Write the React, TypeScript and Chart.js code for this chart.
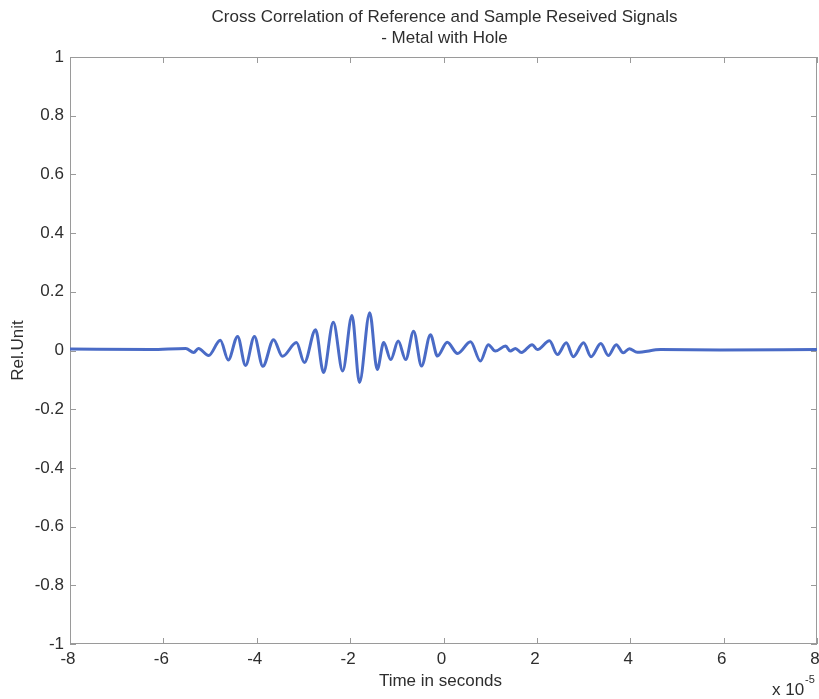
import React, { useEffect, useRef } from "react";
import { Chart, registerables } from "chart.js";

Chart.register(...registerables);

// Time in units of 1e-5 s
const timeE5 = [
  -8.0, -6.27, -5.52, -5.35, -5.25, -5.03, -4.78, -4.61, -4.41, -4.24, -4.05, -3.87,
  -3.64, -3.45, -3.15, -2.98, -2.74, -2.57, -2.36, -2.16, -1.96, -1.8, -1.58, -1.42,
  -1.28, -1.13, -0.97, -0.81, -0.64, -0.47, -0.28, -0.13, 0.08, 0.3, 0.58, 0.79,
  0.96, 1.11, 1.33, 1.43, 1.54, 1.67, 1.9, 2.01, 2.27, 2.44, 2.63, 2.78,
  3.0, 3.16, 3.37, 3.53, 3.7, 3.85, 3.98, 4.15, 4.65, 5.93, 8.0,
];
const relUnit = [
  0.005, 0.003, 0.007, -0.007, 0.007, -0.017, 0.035, -0.032, 0.048, -0.051, 0.048, -0.054,
  0.037, -0.02, 0.027, -0.041, 0.071, -0.075, 0.096, -0.07, 0.119, -0.109, 0.129, -0.065,
  0.027, -0.031, 0.032, -0.031, 0.066, -0.053, 0.054, -0.019, 0.028, -0.01, 0.03, -0.036,
  0.02, -0.002, 0.015, -0.002, 0.007, -0.007, 0.02, 0.003, 0.033, -0.014, 0.026, -0.021,
  0.026, -0.021, 0.024, -0.017, 0.02, -0.008, 0.006, -0.006, 0.003, 0.002, 0.003,
];
const xTickValues = [-8, -6, -4, -2, 0, 2, 4, 6, 8];
const yTickValues = [-1, -0.8, -0.6, -0.4, -0.2, 0, 0.2, 0.4, 0.6, 0.8, 1];
const titleLines = ["Cross Correlation of Reference and Sample Reseived Signals", "- Metal with Hole"];
const xLabel = "Time in seconds";
const yLabel = "Rel.Unit";

const FONT = '"Liberation Sans", Arial, sans-serif';
const TEXT = "#2e2e2e";

export default function App() {
  const ref = useRef<HTMLCanvasElement>(null);

  useEffect(() => {
    if (!ref.current) return;

    const decor = {
      id: "decor",
      beforeDatasetsDraw(chart: any) {
        const { ctx, chartArea: a, scales } = chart;
        const xs = scales.x;
        const ys = scales.y;
        ctx.save();
        ctx.strokeStyle = "#9a9a9a";
        ctx.lineWidth = 1;
        ctx.strokeRect(Math.round(a.left) + 0.5, Math.round(a.top) + 0.5, Math.round(a.width) - 1, Math.round(a.height) - 1);
        const tl = 6;
        ctx.beginPath();
        xTickValues.forEach((v) => {
          const px = Math.round(xs.getPixelForValue(v)) + 0.5;
          ctx.moveTo(px, a.bottom);
          ctx.lineTo(px, a.bottom - tl);
          ctx.moveTo(px, a.top);
          ctx.lineTo(px, a.top + tl);
        });
        yTickValues.forEach((v) => {
          const py = Math.round(ys.getPixelForValue(v)) + 0.5;
          ctx.moveTo(a.left, py);
          ctx.lineTo(a.left + tl, py);
          ctx.moveTo(a.right, py);
          ctx.lineTo(a.right - tl, py);
        });
        ctx.stroke();
        ctx.restore();
      },
      afterDraw(chart: any) {
        const { ctx, chartArea: a, scales } = chart;
        const xs = scales.x;
        const ys = scales.y;
        ctx.save();
        ctx.fillStyle = TEXT;
        ctx.font = `17px ${FONT}`;
        // y tick labels
        ctx.textAlign = "right";
        ctx.textBaseline = "middle";
        yTickValues.forEach((v) => {
          const py = ys.getPixelForValue(v);
          ctx.fillText(String(Math.round(v * 10) / 10), a.left - 6, py);
        });
        // x tick labels
        ctx.textAlign = "center";
        xTickValues.forEach((v) => {
          const px = xs.getPixelForValue(v);
          ctx.fillText(String(v), px - 2, a.bottom + 15);
        });
        // title
        const cx = (a.left + a.right) / 2;
        ctx.fillText(titleLines[0], cx + 1, 17);
        ctx.fillText(titleLines[1], cx + 1, 38);
        // x label
        ctx.fillText(xLabel, cx - 3, 681);
        // exponent
        ctx.textAlign = "left";
        ctx.fillText("x 10", 772, 690);
        ctx.font = `11px ${FONT}`;
        ctx.fillText("-5", 805, 680);
        // y label
        ctx.font = `17px ${FONT}`;
        ctx.translate(18, (a.top + a.bottom) / 2);
        ctx.rotate(-Math.PI / 2);
        ctx.textAlign = "center";
        ctx.fillText(yLabel, 0, 0);
        ctx.restore();
      },
    };

    const chart = new Chart(ref.current, {
      type: "line",
      data: {
        datasets: [
          {
            data: timeE5.map((t, i) => ({ x: t, y: relUnit[i] })),
            borderColor: "#4a6bc6",
            borderWidth: 3,
            pointRadius: 0,
            cubicInterpolationMode: "monotone",
            fill: false,
          },
        ],
      },
      options: {
        responsive: false,
        animation: false,
        events: [],
        layout: { padding: { top: 57, right: 2, left: 0, bottom: 0 } },
        plugins: { legend: { display: false }, tooltip: { enabled: false }, title: { display: false } },
        scales: {
          x: {
            type: "linear",
            min: -8,
            max: 8,
            grid: { display: false, drawTicks: false },
            border: { display: false },
            ticks: { display: false },
            afterFit: (s: any) => {
              s.height = 55;
            },
          },
          y: {
            type: "linear",
            min: -1,
            max: 1,
            grid: { display: false, drawTicks: false },
            border: { display: false },
            ticks: { display: false },
            afterFit: (s: any) => {
              s.width = 70;
            },
          },
        },
      },
      plugins: [decor],
    } as any);

    return () => chart.destroy();
  }, []);

  return (
    <div style={{ position: "absolute", left: 0, top: 0, width: 819, height: 699, background: "#fff" }}>
      <canvas ref={ref} width={819} height={699} />
    </div>
  );
}
